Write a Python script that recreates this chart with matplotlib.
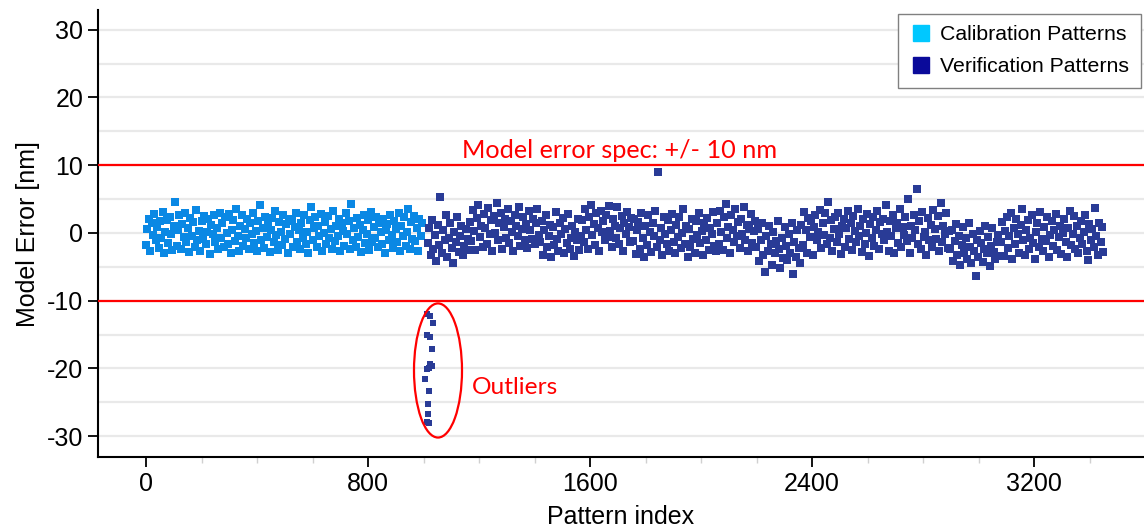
import numpy as np
import matplotlib
matplotlib.use("Agg")
import matplotlib.pyplot as plt
from matplotlib.lines import Line2D
from matplotlib.patches import Ellipse

plt.rcParams['font.family'] = ['Liberation Sans', 'DejaVu Sans']
plt.rcParams['axes.unicode_minus'] = False

# model error [nm] of calibration patterns, index 0..~1000
calib_err = [
    -1.8, 0.6, 2.1, -2.7, 1.4, -0.3, 2.8, -1.1, 0.9, -2.2,
    1.7, -0.8, 3.1, -2.9, 0.2, 1.9, -1.5, 2.4, -0.1, -2.5,
    1.1, 4.6, -1.9, 0.5, 2.6, -2.3, 1.3, -0.6, 2.9, -1.4,
    0.8, -2.8, 2.2, -0.4, 1.6, -2.0, 3.4, -1.0, 0.3, -2.6,
    1.8, -0.9, 2.5, -1.7, 0.1, 2.0, -3.1, 1.2, -0.2, 2.7,
    -1.3, 0.7, -2.4, 3.0, -0.7, 1.5, -2.1, 2.3, 0.0, -1.6,
    2.8, -2.9, 0.4, 1.9, -1.2, 3.6, -0.5, -2.7, 1.0, 2.6,
    -1.9, 0.6, -0.8, 2.1, -2.3, 1.4, -0.2, 2.9, -1.5, 0.3,
    -2.6, 1.7, 4.1, -1.0, 0.8, -2.2, 2.4, -0.6, 1.2, -2.8,
    0.5, 2.2, -1.4, 3.2, -0.3, -2.5, 1.6, 0.1, -1.8, 2.7,
    -0.9, 1.3, -2.9, 2.0, -0.1, 1.8, -2.1, 0.9, 3.0, -1.3,
    0.4, -2.4, 1.5, -0.7, 2.6, -1.7, 0.2, -3.0, 1.9, 3.8,
    -1.1, 0.7, 2.3, -2.0, 1.1, -0.4, 2.8, -2.6, 0.0, 1.6,
    -1.6, 2.5, -0.8, 0.6, -2.3, 3.3, -1.2, 1.0, -0.5, 2.1,
    -2.7, 1.4, 0.3, -1.9, 2.9, -0.2, 1.7, -2.4, 4.3, -1.0,
    0.8, -2.1, 2.2, -0.6, 1.2, -2.8, 0.5, 2.6, -1.5, -0.1,
    1.9, -2.5, 3.1, -1.3, 0.9, -0.7, 2.4, -2.0, 1.5, 0.2,
    -1.7, 2.0, -2.9, 0.4, 1.3, -1.0, 2.7, -0.3, -2.2, 1.8,
    0.6, -1.4, 2.9, -2.6, 1.1, -0.5, 2.3, -1.9, 0.1, 3.5,
    -2.3, 1.6, -0.9, 2.5, -1.2, 0.7, -2.7, 2.0, -0.4, 1.4,
]

# model error [nm] of verification patterns, index ~1015..3450
verif_err = [
    -1.5, 0.8, -3.2, 1.9, -2.4, -0.3, -4.1, 1.2, -1.8, 5.3,
    -2.9, 0.4, -1.1, 2.6, -3.6, -0.7, 1.5, -2.2, -4.4, 0.1,
    -1.4, 2.3, -2.8, -0.5, 1.0, -3.3, -1.9, 0.6, -2.5, -0.9,
    1.6, -1.2, 3.4, 0.3, -2.5, 2.2, 4.1, -0.6, 1.1, -2.0,
    2.8, 0.7, -1.7, 3.7, -0.2, 1.9, -2.7, 2.5, 0.0, 4.4,
    -1.0, 1.4, 3.0, -2.3, 0.9, 2.1, -0.8, 3.5, -1.5, 1.7,
    0.2, -2.6, 2.7, 1.0, -0.4, 3.9, -1.9, 0.6, 2.3, -1.1,
    1.3, -2.2, 3.2, 0.4, -0.9, 2.0, -1.6, 1.5, 3.6, -0.3,
    -1.3, 1.8, -3.2, 0.4, 2.6, -2.1, -0.5, 1.2, -3.6, 0.9,
    -1.8, 3.1, -0.9, -2.7, 1.5, -0.2, 2.2, -3.0, 0.6, -1.5,
    2.8, -2.3, -0.7, 1.0, -3.4, 0.2, -1.1, 2.0, -2.5, -0.4,
    1.9, -1.4, 3.6, 0.5, -2.4, 2.4, 4.2, -0.3, 1.3, -1.8,
    2.9, 0.8, -2.6, 3.3, 0.1, 1.7, -1.0, 2.6, -0.6, 4.0,
    0.3, -2.1, 2.0, 1.1, -0.8, 3.8, -1.6, 0.7, 2.5, -2.7,
    1.5, -0.2, 3.1, 0.9, -1.3, 2.2,
    -1.2, 2.1, -3.1, 0.5, 1.6, -2.4, 3.0, -0.7, -3.5, 1.1,
    -1.8, 2.6, 0.2, -2.8, 1.4, -0.4, 3.3, -2.0, 9.0, -1.0,
    0.8, -3.3, 2.3, -0.2, -1.6, 1.9, -2.6, 0.4, 2.8, -1.3,
    -3.0, 1.2, -0.6, 2.4, -2.2, 0.0, 3.5, -1.7, 1.0, -3.6,
    0.6, -2.0, 2.0, -0.9, -2.9, 1.7, -0.3, 2.9, -1.5, 0.3,
    -3.2, 1.5, -1.1, 2.2, -2.5, 0.7, -0.1, 3.1, -1.9, -2.7,
    1.4, -1.7, 3.2, 0.1, -2.5, 2.3, 4.3, -0.8, 0.9, -2.9,
    2.7, 0.5, -1.3, 3.6, -0.4, 1.6, -2.2, 2.1, -0.1, 3.9,
    -1.0, 1.2, -2.7, 0.6, 2.8, -1.5, 0.3, 1.8,
    -2.1, 0.6, -4.2, -1.0, 1.5, -3.3, -5.8, -0.4, -2.7, 1.1,
    -1.6, -4.8, 0.2, -3.0, -1.2, 1.8, -2.4, -5.2, -0.7, -3.7,
    0.9, -1.9, -4.0, -0.2, -2.9, 1.4, -6.0, -1.4, -3.5, 0.4,
    -2.2, -4.5,
    1.2, -1.8, 3.1, 0.4, -2.9, 2.2, -0.6, 1.7, -3.3, 0.9,
    2.6, -1.1, 0.1, 3.4, -2.2, 1.4, -0.3, 2.9, -1.6, 4.6,
    -0.8, 1.9, -2.7, 0.6, 2.3, -1.4, 3.0, -0.1, -3.1, 1.1,
    2.0, -2.0, 0.8, 3.3, -0.9, 1.5, -2.5, 2.5, 0.3, -1.3,
    3.6, -0.4, 1.0, -2.8, 2.1, -1.7, 0.0, 2.8, -3.4, 1.3,
    -0.7, 2.4, -1.9, 0.5, 3.2, -2.4, 1.6, -0.2, 2.0, -1.0,
    4.1, 0.2, -2.6, 1.8, -0.5, 2.7, -3.0, 0.7, 1.4, -1.5,
    3.5, -2.1, 0.9, -0.3, 2.3, -1.2, 5.0, -2.9, 1.1, -0.8,
    2.6, 0.4, 6.5, -1.6, 1.7, -2.3, 3.1, -0.6, 0.1, -3.2,
    2.2, -1.1, 1.2, -2.0, 3.4, 0.6, -0.9, 2.5, -2.6, 4.4,
    -1.4, 1.0, -0.2, 2.9, -2.2, 0.3,
    -2.4, 0.5, -4.1, -1.2, 1.3, -3.3, -0.4, -4.8, -1.8, 0.9,
    -2.9, -0.8, -3.9, 1.5, -2.1, -4.5, -0.1, -2.6, -6.3, -1.0,
    -3.6, 0.3, -1.5, -4.3, -2.3, 1.0, -3.0, -0.6, -4.9, -1.9,
    0.7, -2.8, -3.8, -1.3, -0.3, -3.4,
    -1.3, 1.6, -3.4, 0.3, 2.4, -2.2, -0.5, 2.9, -3.8, 0.8,
    -1.7, 2.1, -0.1, -2.9, 1.2, 3.5, -1.0, -3.3, 0.5, 1.9,
    -2.4, -0.7, 2.6, -1.5, -3.9, 0.1, 1.4, -2.0, 3.1, -0.9,
    -2.7, 0.9, -1.2, 2.3, -3.5, -0.3, 1.7, -1.9, 0.4, 2.8,
    -2.5, -0.6, 1.1, -3.1, 0.0, 2.0, -1.4, -3.6, 0.7, 3.3,
    -1.8, -0.2, 2.5, -2.3, 1.0, -3.0, -0.8, 1.8, -1.6, 0.2,
    2.7, -2.6, -4.0, 1.3, -1.1, 0.6, -2.1, 3.7, -0.4, -3.2,
    1.5, -1.3, 0.9, -2.8,
]

# outliers among verification patterns
outlier_idx = [1013, 1023, 1034, 1013, 1023, 1030, 1023, 1030,
               1013, 1020, 1005, 1020, 1016, 1016, 1013, 1020]
outlier_err = [-11.9, -12.3, -13.3, -15.0, -15.3, -17.2, -19.3, -19.7,
               -20.1, -20.0, -21.5, -23.4, -25.2, -26.7, -27.9, -28.1]

spec = 10
calib_x = np.linspace(0, 995, len(calib_err))
verif_x = np.linspace(1015, 3450, len(verif_err))

calib_color = '#0A88E4'
verif_color = '#293B96'

fig = plt.figure(figsize=(11.44, 5.31), dpi=100)
ax = fig.add_axes([0.0857, 0.139, 0.9143, 0.842])

ax.set_xlim(-173, 3596)
ax.set_ylim(-33.1, 32.9)

ax.set_yticks(np.arange(-30, 31, 10))
ax.set_yticks(np.arange(-25, 30, 10), minor=True)
ax.set_xticks(np.arange(0, 3300, 800))
ax.set_xticks(np.arange(200, 3600, 200), minor=True)
ax.grid(axis='y', which='both', color='#E9E9E9', lw=1.6, zorder=0)
ax.axhline(0, color='#BDBDBD', lw=1.4, zorder=1)

ax.scatter(calib_x, calib_err, s=34, marker='s', color=calib_color,
           linewidths=0, zorder=3)
ax.scatter(verif_x, verif_err, s=34, marker='s', color=verif_color,
           linewidths=0, zorder=3)
ax.scatter(outlier_idx, outlier_err, s=16, marker='s', color=verif_color,
           linewidths=0, zorder=3)

ax.axhline(spec, color='#FF0000', lw=1.6, zorder=4)
ax.axhline(-spec, color='#FF0000', lw=1.6, zorder=4)
ax.text(1708, spec + 0.5, 'Model error spec: +/- 10 nm', color='#FF0000',
        fontsize=18.2, family=['Lato', 'DejaVu Sans'], ha='center', va='bottom')

ax.add_patch(Ellipse((1052, -20.3), 173, 19.8, fill=False,
                     edgecolor='#FF0000', lw=1.6, zorder=5))
ax.text(1175, -22.8, 'Outliers', color='#FF0000', fontsize=17.6,
        family=['Lato', 'DejaVu Sans'], ha='left', va='center')

for side in ['top', 'right']:
    ax.spines[side].set_visible(False)
for side in ['left', 'bottom']:
    ax.spines[side].set_linewidth(1.5)
ax.tick_params(axis='both', which='major', length=7, width=1.3,
               labelsize=18, direction='out')
ax.tick_params(axis='y', which='minor', length=0)
ax.tick_params(axis='x', which='minor', length=4, width=1, color='#D0D0D0')

ax.set_xlabel('Pattern index', fontsize=18, labelpad=7)
ax.set_ylabel('Model Error [nm]', fontsize=18, labelpad=5)

handles = [
    Line2D([], [], ls='none', marker='s', markersize=12,
           color='#00C8FF', label='Calibration Patterns'),
    Line2D([], [], ls='none', marker='s', markersize=12,
           color='#0A0A9A', label='Verification Patterns'),
]
leg = ax.legend(handles=handles, loc='upper right',
                bbox_to_anchor=(0.997, 0.992), fontsize=15.3,
                fancybox=False, framealpha=1, edgecolor='#808080',
                handletextpad=0.35, handlelength=1.1, borderpad=0.55,
                labelspacing=0.6, borderaxespad=0)
leg.get_frame().set_linewidth(1.0)

fig.savefig('out.png', dpi=100)
